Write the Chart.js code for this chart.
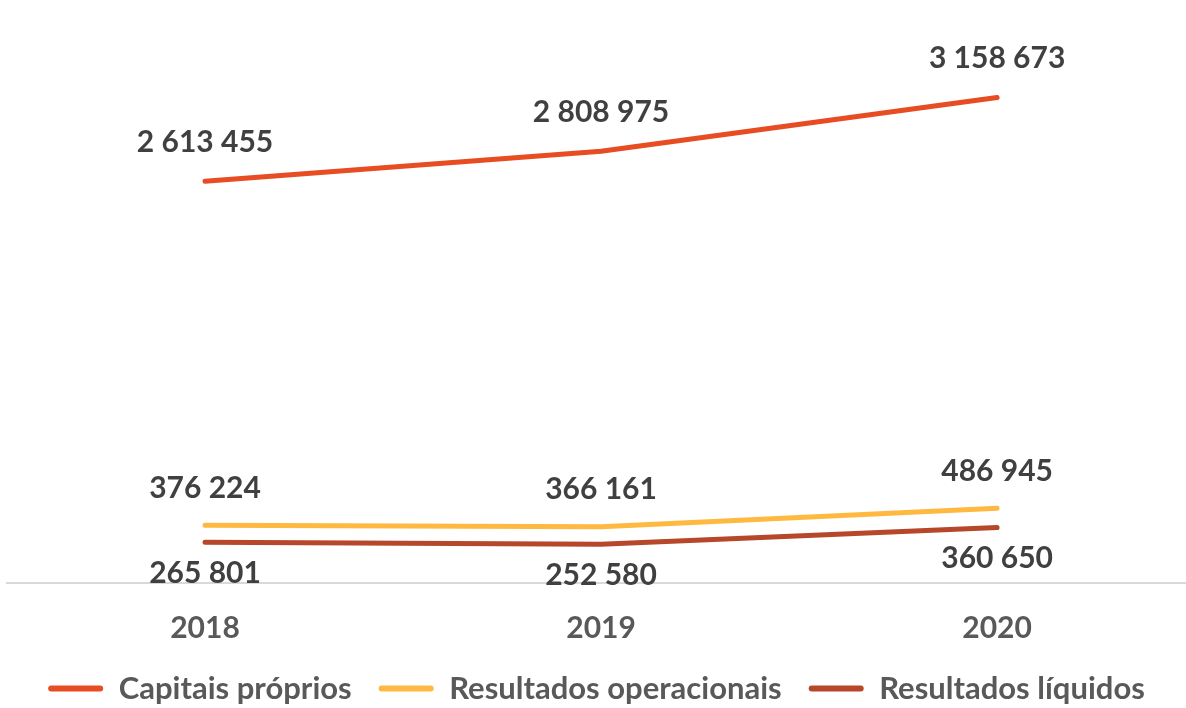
<!DOCTYPE html>
<html>
<head>
<meta charset="utf-8">
<script src="https://cdn.jsdelivr.net/npm/chart.js@4.4.1/dist/chart.umd.min.js"></script>
<style>
html,body{margin:0;padding:0;background:#ffffff;}
#wrap{width:1186px;height:708px;position:relative;}
</style>
</head>
<body>
<div id="wrap"><canvas id="c" width="1186" height="708"></canvas></div>
<script>
const categories = ['2018', '2019', '2020'];
const seriesNames = ['Capitais próprios', 'Resultados operacionais', 'Resultados líquidos'];
const capitaisProprios = [2613455, 2808975, 3158673];
const resultadosOperacionais = [376224, 366161, 486945];
const resultadosLiquidos = [265801, 252580, 360650];

const colors = ['#E84C22', '#FFB940', '#B7472A'];
const labelOffsets = [-39, -37, 31];

function fmt(v){ return String(v).replace(/\B(?=(\d{3})+(?!\d))/g, ' '); }
function pts(arr){ return arr.map((v,i)=>({x:i, y:v})); }

const valueLabels = {
  id: 'valueLabels',
  afterDatasetsDraw(chart){
    const ctx = chart.ctx;
    ctx.save();
    ctx.font = 'bold 30px Lato';
    ctx.fillStyle = '#404040';
    ctx.textAlign = 'center';
    ctx.textBaseline = 'middle';
    chart.data.datasets.forEach((ds, i) => {
      const meta = chart.getDatasetMeta(i);
      meta.data.forEach((el, j) => {
        ctx.fillText(fmt(ds.data[j].y), el.x, el.y + labelOffsets[i]);
      });
    });
    ctx.restore();
  }
};

function draw(){
  const series = [capitaisProprios, resultadosOperacionais, resultadosLiquidos];
  new Chart(document.getElementById('c'), {
    type: 'line',
    data: {
      datasets: series.map((s, i) => ({
        label: seriesNames[i],
        data: pts(s),
        borderColor: colors[i],
        backgroundColor: colors[i],
        borderWidth: 5,
        pointRadius: 0,
        tension: 0,
        borderCapStyle: 'round',
        borderJoinStyle: 'round'
      }))
    },
    options: {
      responsive: false,
      animation: false,
      devicePixelRatio: 1,
      layout: { padding: { top: 45, left: 7, right: 0, bottom: -6 } },
      plugins: {
        tooltip: { enabled: false },
        legend: {
          position: 'bottom',
          labels: {
            boxWidth: 55,
            boxHeight: 6,
            padding: 27,
            color: '#595959',
            font: { family: 'Lato', size: 31, weight: 'bold' },
            useBorderRadius: true,
            borderRadius: 3,
            generateLabels(chart){
              const items = Chart.defaults.plugins.legend.labels.generateLabels(chart);
              items.forEach(it => { it.lineWidth = 0; it.fillStyle = it.strokeStyle; });
              return items;
            }
          }
        }
      },
      scales: {
        x: {
          type: 'linear',
          min: -0.5,
          max: 2.477,
          grid: { display: false, drawTicks: false },
          border: { display: true, color: '#d9d9d9', width: 2 },
          afterBuildTicks(axis){ axis.ticks = categories.map((c, i) => ({ value: i })); },
          afterFit(axis){ axis.height = 63; },
          ticks: {
            padding: 27,
            color: '#595959',
            font: { family: 'Lato', size: 30, weight: 'bold' },
            maxRotation: 0,
            autoSkip: false,
            callback: (v) => categories[v] !== undefined ? categories[v] : ''
          }
        },
        y: {
          display: false,
          min: 0,
          max: 3500000
        }
      }
    },
    plugins: [valueLabels]
  });
}

if (document.fonts && document.fonts.load) {
  Promise.all([document.fonts.load('bold 30px Lato'), document.fonts.load('bold 31px Lato')]).then(draw, draw);
} else { draw(); }
</script>
</body>
</html>
